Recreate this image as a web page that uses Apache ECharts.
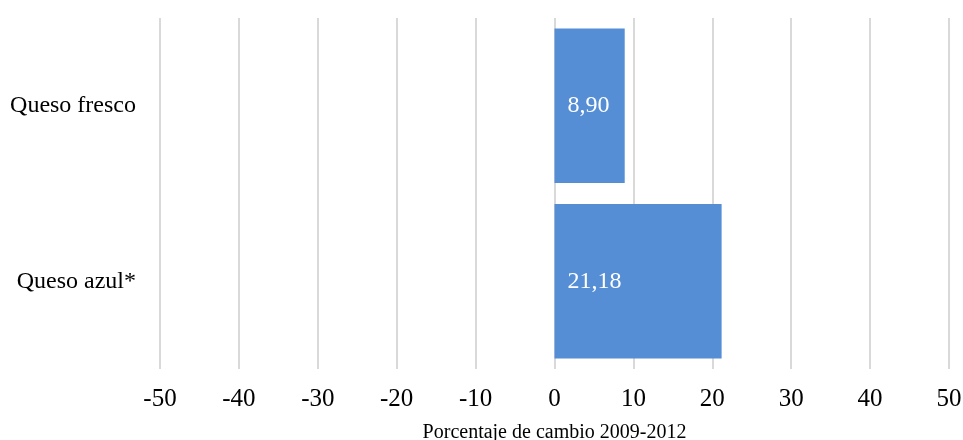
<!DOCTYPE html>
<html>
<head>
<meta charset="utf-8">
<script src="https://cdn.jsdelivr.net/npm/echarts@6/dist/echarts.min.js"></script>
<style>
  html, body { margin: 0; padding: 0; background: #fff; }
  #chart { width: 963px; height: 440px; }
</style>
</head>
<body>
<div id="chart"></div>
<script>
// Categories listed bottom-to-top on the vertical axis
const categories = ['Queso azul*', 'Queso fresco'];
const changes = [21.18, 8.90];
const axisTicks = [-50, -40, -30, -20, -10, 0, 10, 20, 30, 40, 50];
const axisTitle = 'Porcentaje de cambio 2009-2012';

const serif = '"Liberation Serif", "Times New Roman", serif';

const chart = echarts.init(document.getElementById('chart'), null, { renderer: 'canvas' });
chart.setOption({
  animation: false,
  backgroundColor: '#ffffff',
  grid: { left: 160, right: 14, top: 18, bottom: 71, containLabel: false, outerBoundsMode: 'none' },
  xAxis: {
    type: 'value',
    min: axisTicks[0],
    max: axisTicks[axisTicks.length - 1],
    interval: 10,
    axisLine: { show: false },
    axisTick: { show: false },
    axisLabel: { fontFamily: serif, fontSize: 25, color: '#000', margin: 18 },
    splitLine: { show: true, lineStyle: { color: '#d9d9d9', width: 2 } },
    name: axisTitle,
    nameLocation: 'middle',
    nameGap: 54,
    nameTextStyle: { fontFamily: serif, fontSize: 20, color: '#000' }
  },
  yAxis: {
    type: 'category',
    data: categories,
    axisLine: { show: false },
    axisTick: { show: false },
    axisLabel: { fontFamily: serif, fontSize: 24, color: '#000', margin: 24 },
    splitLine: { show: false }
  },
  series: [{
    type: 'bar',
    data: changes,
    barCategoryGap: '12%',
    itemStyle: { color: '#558ed5' },
    label: {
      show: true,
      position: 'insideLeft',
      distance: 13,
      fontFamily: serif,
      fontSize: 24,
      color: '#ffffff',
      formatter: p => p.value.toFixed(2).replace('.', ',')
    }
  }]
});
</script>
</body>
</html>
